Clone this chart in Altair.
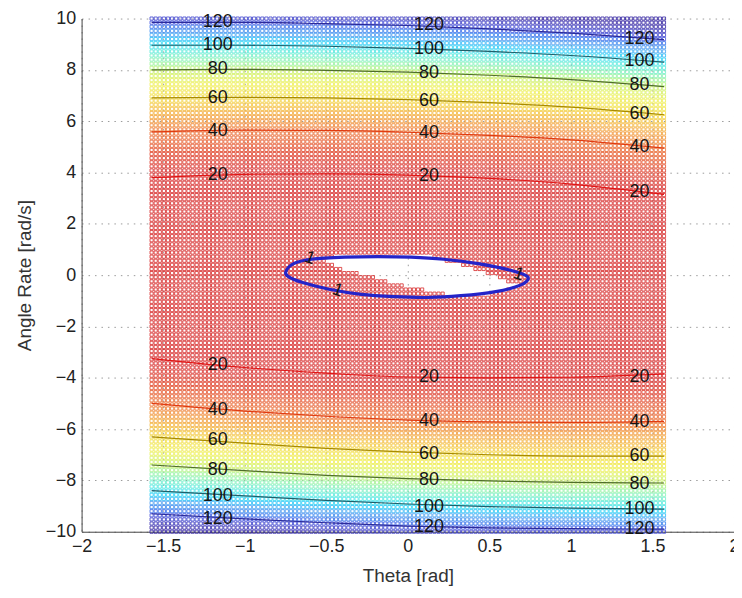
import altair as alt
import numpy as np
import pandas as pd

alt.data_transformers.disable_max_rows()

# ---------------- data ----------------
# sampling mesh of the hollow-square marker grid
n_theta = 126
n_rate = 126
theta_min, theta_max = -1.5708, 1.5708
rate_min, rate_max = -10.0, 10.0

# contour levels and their positions (Angle Rate) at these Theta values
levels = [20, 40, 60, 80, 100, 120]
contour_theta = [-1.5708, -1.0, -0.5, 0.0, 0.5, 1.0, 1.5708]
upper_20 = [3.80, 3.93, 3.95, 3.90, 3.77, 3.55, 3.15]
upper_40 = [5.58, 5.65, 5.64, 5.57, 5.45, 5.27, 4.95]
upper_60 = [6.91, 6.93, 6.91, 6.84, 6.72, 6.55, 6.25]
upper_80 = [8.00, 8.02, 7.98, 7.91, 7.79, 7.62, 7.35]
upper_100 = [8.96, 8.96, 8.92, 8.84, 8.72, 8.56, 8.30]
upper_120 = [9.85, 9.85, 9.80, 9.73, 9.60, 9.43, 9.18]
lower_20 = [-3.25, -3.60, -3.82, -3.97, -4.00, -3.98, -3.85]
lower_40 = [-5.00, -5.30, -5.50, -5.65, -5.72, -5.74, -5.70]
lower_60 = [-6.30, -6.55, -6.75, -6.90, -7.00, -7.05, -7.05]
lower_80 = [-7.40, -7.62, -7.80, -7.93, -8.02, -8.08, -8.10]
lower_100 = [-8.40, -8.60, -8.78, -8.92, -9.02, -9.08, -9.12]
lower_120 = [-9.30, -9.50, -9.65, -9.78, -9.85, -9.88, -9.90]

# level-1 contour (closed curve)
ell_theta = [-0.748, -0.70, -0.59, -0.386, -0.183, 0.02, 0.22, 0.43, 0.63, 0.736,
             0.69, 0.53, 0.325, 0.12, -0.08, -0.285, -0.49, -0.65, -0.73]
ell_rate = [0.13, 0.45, 0.62, 0.70, 0.72, 0.70, 0.62, 0.45, 0.19, -0.07,
            -0.39, -0.65, -0.80, -0.87, -0.84, -0.75, -0.54, -0.28, -0.07]

# region without markers (inside the level-1 curve)
hole_theta = [-0.50, -0.39, -0.18, 0.02, 0.14, 0.44, 0.56, 0.68, 0.53, 0.33,
              0.17, 0.07, -0.07, -0.21, -0.41, -0.52]
hole_rate = [0.68, 0.76, 0.78, 0.76, 0.74, 0.19, -0.13, -0.42, -0.70, -0.86,
             -0.66, -0.52, -0.32, -0.07, 0.26, 0.58]

# contour label positions
label_theta_left, label_theta_mid, label_theta_right = -1.165, 0.13, 1.42
lab_upper_left = [3.91, 5.62, 6.90, 8.02, 8.95, 9.88]
lab_upper_mid = [3.88, 5.54, 6.78, 7.87, 8.80, 9.73]
lab_upper_right = [3.22, 5.00, 6.28, 7.40, 8.33, 9.22]
lab_lower_left = [-3.49, -5.27, -6.43, -7.60, -8.60, -9.50]
lab_lower_mid = [-3.99, -5.70, -6.98, -7.98, -9.03, -9.81]
lab_lower_right = [-3.99, -5.74, -7.05, -8.14, -9.11, -9.88]

one_theta = [-0.60, -0.43, 0.68]
one_rate = [0.66, -0.60, 0.02]
one_angle = [20, 20, 20]

x_ticks = [-2, -1.5, -1, -0.5, 0, 0.5, 1, 1.5, 2]
y_ticks = [-10, -8, -6, -4, -2, 0, 2, 4, 6, 8, 10]

# ---------------- styles ----------------
color_domain = [0, 22, 30, 40, 50, 60, 70, 80, 90, 100, 110, 120, 132]
color_range = ["#d62828", "#d62828", "#e04028", "#ec7032", "#f2a83a", "#f2da40", "#eef050",
               "#c8f070", "#80f0c0", "#40e0f0", "#50a0f0", "#4050e0", "#3020a0"]
line_colors = ["#e01515", "#e03a10", "#a88a00", "#4f6e2a", "#1f5f6a", "#2a2a9a"]
FONT = "Liberation Sans"

# ---------------- build tables ----------------
uppers = [upper_20, upper_40, upper_60, upper_80, upper_100, upper_120]
lowers = [lower_20, lower_40, lower_60, lower_80, lower_100, lower_120]

theta_vals = np.linspace(theta_min, theta_max, n_theta)
rate_vals = np.linspace(rate_min, rate_max, n_rate)
T, R = np.meshgrid(theta_vals, rate_vals)

up_at = np.array([np.interp(theta_vals, contour_theta, u) for u in uppers])
lo_at = np.array([-np.interp(theta_vals, contour_theta, l) for l in lowers])
fp = [0] + levels + [140]
V = np.zeros_like(T)
for j in range(n_theta):
    u = up_at[:, j]
    l = lo_at[:, j]
    xu = np.concatenate([[0.0], u, [u[-1] + (u[-1] - u[-2])]])
    xl = np.concatenate([[0.0], l, [l[-1] + (l[-1] - l[-2])]])
    col = R[:, j]
    V[:, j] = np.where(col >= 0, np.interp(col, xu, fp), np.interp(-col, xl, fp))


def inside(px, py, polx, poly):
    res = np.zeros(px.shape, dtype=bool)
    n = len(polx)
    j = n - 1
    for i in range(n):
        xi, yi, xj, yj = polx[i], poly[i], polx[j], poly[j]
        cond = ((yi > py) != (yj > py)) & (px < (xj - xi) * (py - yi) / (yj - yi) + xi)
        res ^= cond
        j = i
    return res


mask = ~inside(T, R, hole_theta, hole_rate)
grid_df = pd.DataFrame({
    "theta": np.round(T[mask], 4),
    "rate": np.round(R[mask], 4),
    "v": np.round(V[mask], 1),
})

rows = []
for lev, u, l in zip(levels, uppers, lowers):
    for th, r in zip(contour_theta, u):
        rows.append({"theta": th, "rate": r, "level": str(lev), "key": f"u{lev}"})
    for th, r in zip(contour_theta, l):
        rows.append({"theta": th, "rate": r, "level": str(lev), "key": f"l{lev}"})
contour_df = pd.DataFrame(rows)

ell_df = pd.DataFrame({"theta": ell_theta, "rate": ell_rate, "idx": list(range(len(ell_theta)))})

lab_rows = []
for arr, th in [(lab_upper_left, label_theta_left), (lab_upper_mid, label_theta_mid),
                (lab_upper_right, label_theta_right), (lab_lower_left, label_theta_left),
                (lab_lower_mid, label_theta_mid), (lab_lower_right, label_theta_right)]:
    for lev, r in zip(levels, arr):
        lab_rows.append({"theta": th, "rate": r, "label": str(lev)})
lab_df = pd.DataFrame(lab_rows)

one_df = pd.DataFrame({"theta": one_theta, "rate": one_rate, "angle": one_angle, "label": ["1"] * 3})

# ---------------- chart ----------------
xs = alt.Scale(domain=[-2, 2], nice=False, zero=False)
ys = alt.Scale(domain=[-10, 10], nice=False, zero=False)

x_enc = alt.X("theta:Q", scale=xs, title="Theta [rad]",
              axis=alt.Axis(values=x_ticks, format="~g", labelFontSize=18, titleFontSize=19,
                            labelFont=FONT, titleFont=FONT, labelColor="#222", titleColor="#333",
                            titleFontWeight="normal", labelPadding=6, titlePadding=11,
                            ticks=False, domainColor="#444", gridColor="#9a9a9a",
                            gridDash=[1.5, 5], gridWidth=1, labelFlush=False))
y_enc = alt.Y("rate:Q", scale=ys, title="Angle Rate [rad/s]",
              axis=alt.Axis(values=y_ticks, format="d", labelFontSize=18, titleFontSize=19,
                            labelFont=FONT, titleFont=FONT, labelColor="#222", titleColor="#333",
                            titleFontWeight="normal", labelPadding=6, titlePadding=11,
                            ticks=False, domainColor="#444", gridColor="#9a9a9a",
                            gridDash=[1.5, 5], gridWidth=1, labelFlush=False))

points = alt.Chart(grid_df).mark_point(shape="square", filled=False, size=10, strokeWidth=0.8,
                                       opacity=1).encode(
    x=x_enc, y=y_enc,
    color=alt.Color("v:Q", scale=alt.Scale(domain=color_domain, range=color_range, clamp=True),
                    legend=None),
)

lines = alt.Chart(contour_df).mark_line(strokeWidth=1.2, interpolate="monotone").encode(
    x=alt.X("theta:Q", scale=xs),
    y=alt.Y("rate:Q", scale=ys),
    detail="key:N",
    stroke=alt.Stroke("level:N", scale=alt.Scale(domain=[str(v) for v in levels], range=line_colors),
                      legend=None),
)

ellipse = alt.Chart(ell_df).mark_line(strokeWidth=3.2, interpolate="cardinal-closed",
                                      color="#2424c8").encode(
    x=alt.X("theta:Q", scale=xs),
    y=alt.Y("rate:Q", scale=ys),
    order="idx:Q",
)

labels = alt.Chart(lab_df).mark_text(fontSize=18, font=FONT, color="#151515",
                                     align="center", baseline="middle").encode(
    x=alt.X("theta:Q", scale=xs),
    y=alt.Y("rate:Q", scale=ys),
    text="label:N",
)

ones = alt.Chart(one_df).mark_text(fontSize=18, font=FONT, color="#151515",
                                   align="center", baseline="middle").encode(
    x=alt.X("theta:Q", scale=xs),
    y=alt.Y("rate:Q", scale=ys),
    angle=alt.Angle("angle:Q", scale=None),
    text="label:N",
)

chart = alt.layer(points, lines, ellipse, labels, ones).properties(
    width=656, height=516,
    autosize=alt.AutoSizeParams(type="none"),
    padding={"left": 74, "top": 9, "right": 0, "bottom": 62},
    background="white",
).configure_view(strokeWidth=0)

chart.save("out.html", embed_options={"renderer": "svg", "actions": False})
